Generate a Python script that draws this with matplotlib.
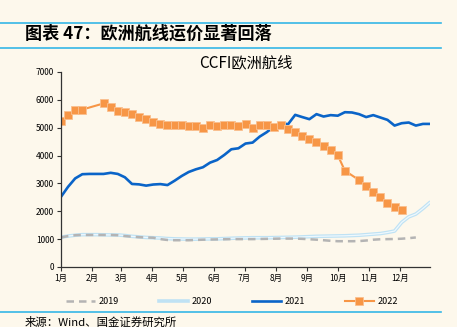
import numpy as np
import matplotlib.pyplot as plt
from matplotlib.lines import Line2D

plt.rcParams['font.family'] = ['Noto Sans CJK SC', 'DejaVu Sans']

# 周度数据 (第0周 = 1月初)
y2019 = [1060, 1110, 1140, 1150, 1150, 1150, 1150, 1150, 1140, 1110, 1090, 1070, 1060, 1050,
         1000, 970, 960, 960, 960, 970, 980, 985, 990, 995, 1000, 1000, 1000, 1000, 1005, 1010,
         1015, 1020, 1020, 1020, 1010, 995, 980, 960, 940, 925, 925, 925, 930, 950, 980, 995,
         1000, 1005, 1015, 1035, 1060]
y2020 = [1070, 1110, 1140, 1160, 1160, 1160, 1155, 1150, 1150, 1130, 1100, 1080, 1060, 1050,
         1040, 1020, 1010, 1005, 1000, 1000, 1005, 1010, 1010, 1020, 1030, 1040, 1045, 1050,
         1050, 1050, 1055, 1060, 1065, 1070, 1080, 1090, 1100, 1105, 1110, 1115, 1120, 1130,
         1140, 1160, 1180, 1200, 1240, 1290, 1600, 1800, 1900, 2100, 2320]
y2021 = [2520, 2880, 3180, 3330, 3340, 3340, 3340, 3380, 3340, 3220, 2980, 2965, 2920, 2960,
         2975, 2940, 3095, 3265, 3410, 3505, 3580, 3745, 3840, 4020, 4225, 4260, 4430, 4465,
         4680, 4840, 5040, 5160, 5125, 5460, 5380, 5305, 5485, 5400, 5450, 5430, 5555, 5545,
         5485, 5380, 5450, 5365, 5280, 5075, 5160, 5185, 5075, 5135, 5135]
y2022 = [5250, 5460, 5650, 5650, np.nan, np.nan, 5870, 5750, 5605, 5545, 5485, 5390, 5305,
         5200, 5125, 5100, 5100, 5090, 5065, 5065, 5000, 5090, 5065, 5110, 5090, 5060, 5125,
         5005, 5110, 5110, 5020, 5105, 4955, 4840, 4715, 4595, 4480, 4345, 4200, 4010, 3455,
         np.nan, 3120, 2895, 2700, 2520, 2305, 2160, 2040]

meses = ["1月", "2月", "3月", "4月", "5月", "6月", "7月", "8月", "9月", "10月", "11月", "12月"]
dias_mes = [0, 31, 59, 90, 120, 151, 181, 212, 243, 273, 304, 334]

fondo = '#FDF8EC'
fig = plt.figure(figsize=(4.57, 3.27), dpi=100, facecolor=fondo)
ax = fig.add_axes([0.1335, 0.1835, 0.8075, 0.5965], facecolor=fondo)

x19 = np.arange(len(y2019))
x20 = np.arange(len(y2020))
x21 = np.arange(len(y2021))
a22 = np.array(y2022, dtype=float)
x22 = np.arange(len(a22))
ok = ~np.isnan(a22)

# 2020: linea celeste con centro claro
ax.plot(x20, y2020, color='#BFE2F4', lw=2.6, solid_capstyle='round')
ax.plot(x20, y2020, color='#EEF8FD', lw=0.9)
ax.plot(x19, y2019, color='#B4B4B4', lw=1.8, dashes=(3, 2))
ax.plot(x21, y2021, color='#0A64C8', lw=1.9)
ax.plot(x22[ok], a22[ok], color='#F79646', lw=1.5, marker='s', markersize=5.3,
        markerfacecolor='#F79646', markeredgecolor='#FAC08F', markeredgewidth=0.6)

ax.set_xlim(0, 52)
ax.set_ylim(0, 7000)
ax.set_yticks(range(0, 7001, 1000))
ax.set_xticks([d / 7 for d in dias_mes])
ax.set_xticklabels(meses)
ax.tick_params(axis='both', labelsize=6, length=3, width=0.8, color='#333333', pad=2)
for s in ['top', 'right']:
    ax.spines[s].set_visible(False)
for s in ['left', 'bottom']:
    ax.spines[s].set_color('#333333')
    ax.spines[s].set_linewidth(0.9)

ax.set_title("CCFI欧洲航线", fontsize=11, pad=3, fontweight='light')

# Leyenda
h = [Line2D([], [], color='#B4B4B4', lw=1.8, dashes=(3, 2)),
     Line2D([], [], color='#BFE2F4', lw=2.6),
     Line2D([], [], color='#0A64C8', lw=1.9),
     Line2D([], [], color='#F79646', lw=1.5, marker='s', markersize=5.3,
            markeredgecolor='#FAC08F', markeredgewidth=0.6)]
fig.legend(h, ["2019", "2020", "2021", "2022"], loc='center', bbox_to_anchor=(0.508, 1 - 302 / 327),
           ncol=4, frameon=False, fontsize=6.5, handlelength=3.2, handletextpad=0.45,
           columnspacing=4.4)

# Cabecera y pie
fig.add_artist(Line2D([0, 0.965], [1 - 22.5 / 327] * 2, color='#35B6E6', lw=1.2))
fig.add_artist(Line2D([0, 0.965], [1 - 48.3 / 327] * 2, color='#35B6E6', lw=1.2))
fig.add_artist(Line2D([0, 0.965], [1 - 312.3 / 327] * 2, color='#35B6E6', lw=1.2))
fig.text(25 / 457, 1 - 34 / 327, "图表 47：欧洲航线运价显著回落", fontsize=12.3, fontweight='bold',
         fontstyle='italic', va='center', ha='left')
fig.text(25 / 457, 1 - 322 / 327, "来源：Wind、国金证券研究所", fontsize=8.2, va='center', ha='left')

fig.savefig("out.png", dpi=100, facecolor=fondo)
